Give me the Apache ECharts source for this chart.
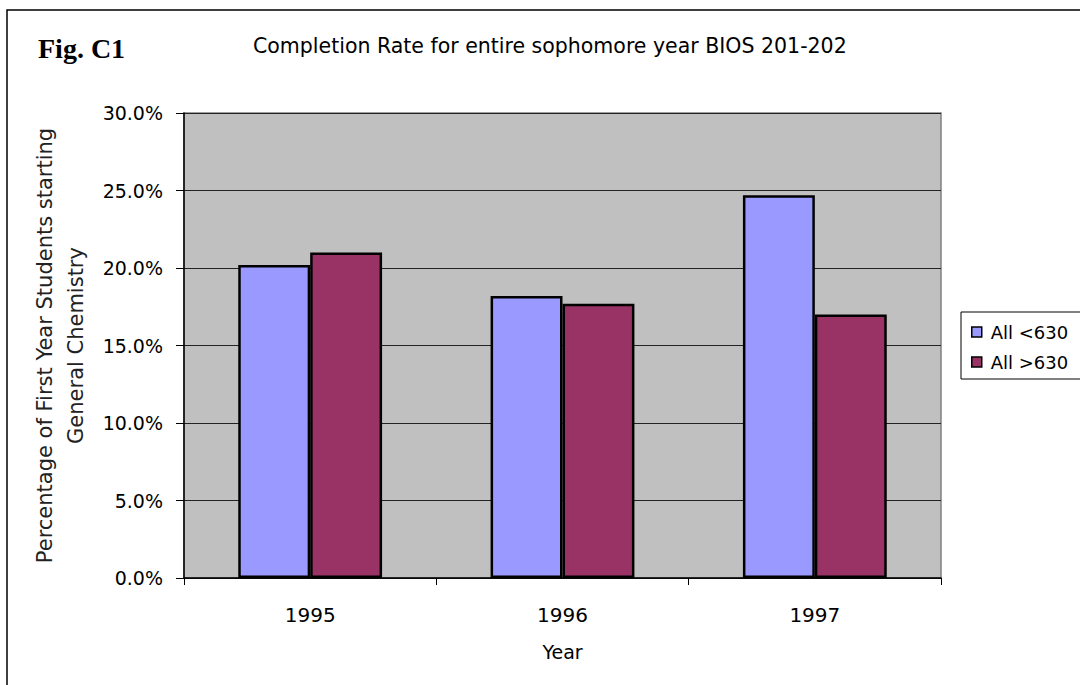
<!DOCTYPE html>
<html>
<head>
<meta charset="utf-8">
<script src="https://cdn.jsdelivr.net/npm/echarts@6/dist/echarts.min.js"></script>
<style>
  html, body { margin: 0; padding: 0; background: #fff; }
  #chart { width: 1080px; height: 685px; }
</style>
</head>
<body>
<div id="chart"></div>
<script>
// data (percent)
const years = ['1995', '1996', '1997']
const below630 = [20.2, 18.2, 24.7]
const above630 = [21.0, 17.7, 17.0]
const seriesNames = ['All <630', 'All >630']

const font = 'DejaVu Sans'
const myChart = echarts.init(document.getElementById('chart'), null, { renderer: 'svg' })

myChart.setOption({
    animation: false,
    backgroundColor: '#fff',
    textStyle: { fontFamily: font, color: '#000' },
    graphic: [
        // outer frame
        {
            type: 'rect',
            shape: { x: 7, y: 10, width: 1200, height: 800 },
            style: { fill: 'none', stroke: '#000', lineWidth: 1.5 },
            silent: true
        },
        {
            type: 'text',
            left: 38,
            top: 34,
            style: { text: 'Fig. C1', font: 'bold 28px "Liberation Serif"', fill: '#000' }
        },
        {
            type: 'text',
            left: 253,
            top: 35,
            style: { text: 'Completion Rate for entire sophomore year BIOS 201-202', font: '20.5px "DejaVu Sans"', fill: '#000' }
        }
    ],
    legend: {
        data: seriesNames,
        orient: 'vertical',
        left: 961,
        top: 312,
        padding: [11, 14, 8, 10],
        itemGap: 12,
        itemWidth: 10,
        itemHeight: 10,
        icon: 'rect',
        borderColor: '#000',
        borderWidth: 1,
        backgroundColor: '#fff',
        borderRadius: 0,
        itemStyle: { borderColor: '#000', borderWidth: 1.5 },
        textStyle: { fontFamily: font, fontSize: 18, color: '#000', padding: [0, 0, 0, 4] }
    },
    grid: {
        left: 184,
        top: 113,
        right: 139,
        bottom: 107,
        show: true,
        backgroundColor: '#c0c0c0',
        borderColor: '#808080',
        borderWidth: 1.5
    },
    xAxis: {
        type: 'category',
        data: years,
        name: 'Year',
        nameLocation: 'middle',
        nameGap: 64,
        nameTextStyle: { fontFamily: font, fontSize: 19, color: '#000' },
        axisLine: { lineStyle: { color: '#000', width: 1.5 } },
        axisTick: { show: true, length: 7, lineStyle: { color: '#000' } },
        axisLabel: { margin: 27, fontFamily: font, fontSize: 20, color: '#000' }
    },
    yAxis: {
        type: 'value',
        min: 0,
        max: 30,
        interval: 5,
        name: 'Percentage of First Year Students starting\nGeneral Chemistry',
        nameLocation: 'middle',
        nameRotate: 90,
        nameGap: 92,
        nameTextStyle: { fontFamily: font, fontSize: 21, color: '#222', lineHeight: 31, align: 'center' },
        axisLine: { show: true, lineStyle: { color: '#000', width: 1.5 } },
        axisTick: { show: true, length: 8, lineStyle: { color: '#000' } },
        axisLabel: {
            margin: 21,
            fontFamily: font,
            fontSize: 19,
            color: '#000',
            formatter: v => v.toFixed(1) + '%'
        },
        splitLine: { show: true, lineStyle: { color: '#222', width: 1 } }
    },
    series: [
        {
            name: seriesNames[0],
            type: 'bar',
            data: below630,
            barGap: '0%',
            barCategoryGap: '43%',
            itemStyle: { color: '#9999ff', borderColor: '#000', borderWidth: 2.5 }
        },
        {
            name: seriesNames[1],
            type: 'bar',
            data: above630,
            itemStyle: { color: '#993366', borderColor: '#000', borderWidth: 2.5 }
        }
    ]
})
</script>
</body>
</html>
